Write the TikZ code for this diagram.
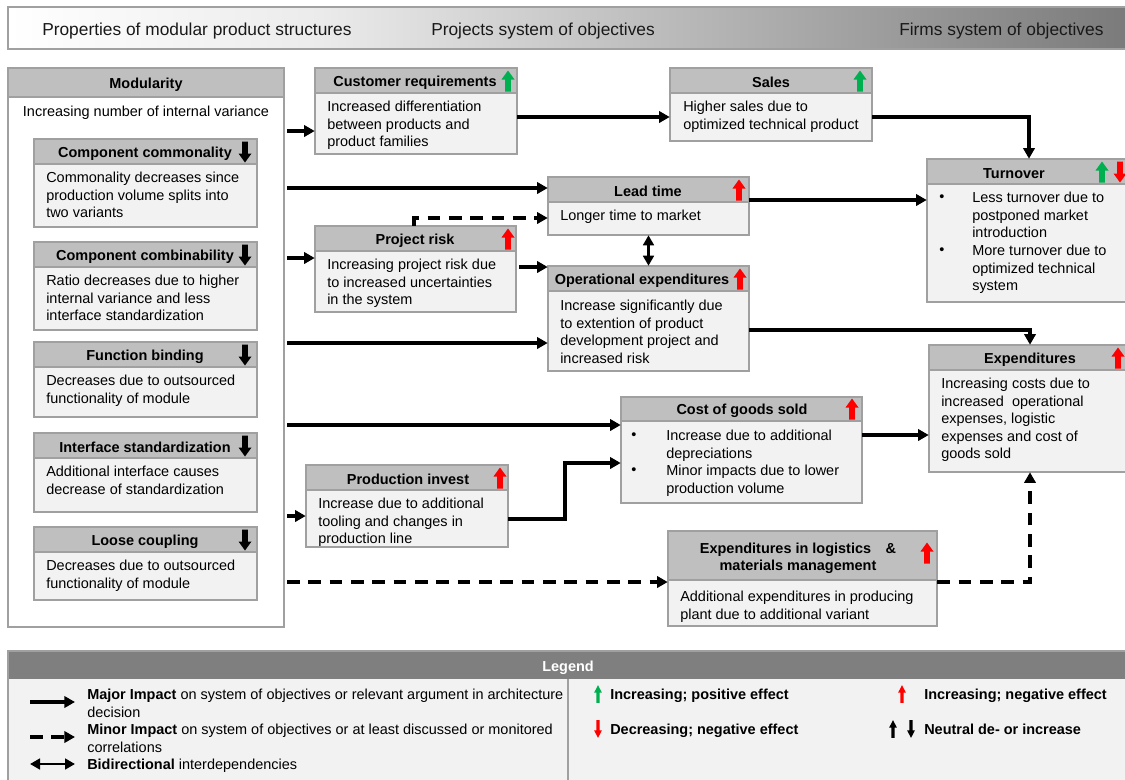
\documentclass[tikz,border=0pt]{standalone}
\usepackage{fontspec}
\setmainfont{Liberation Sans}
\usetikzlibrary{arrows.meta,fit}
\definecolor{titlefill}{HTML}{BFBFBF}
\definecolor{bodyfill}{HTML}{F2F2F2}
\definecolor{boxline}{HTML}{A0A0A0}
\definecolor{leghead}{HTML}{7F7F7F}
\definecolor{hdrmid}{HTML}{EBEBEB}
\definecolor{hdrend}{HTML}{7A7A7A}
\definecolor{posgreen}{HTML}{00B050}
\definecolor{negred}{HTML}{FF0000}
\newcommand\bodyfont{\fontsize{10.85pt}{13.1pt}\selectfont}
\newcommand\headfont{\fontsize{13pt}{15pt}\selectfont}
% name x1 y1 x2 y2 yband fill
\newcommand\objbox[7]{%
  \node[fit={(#2,#3) (#4,#5)}, inner sep=0pt, fill=#7] (#1) {};
  \fill[titlefill] (#2,#3) rectangle (#4,#6);
  \draw[boxline, line width=0.9pt] (#2,#6) -- (#4,#6);
  \draw[boxline, line width=1.1pt] (#2,#3) rectangle (#4,#5);
}
\newcommand\blkup[4][]{\begin{scope}[shift={(#2,#3)},#1]
  \fill[#4] (0,-10.5) -- (6.5,-1.5) -- (2.8,-1.5) -- (2.8,10.5) -- (-2.8,10.5) -- (-2.8,-1.5) -- (-6.5,-1.5) -- cycle;
\end{scope}}
\newcommand\blkdown[4][]{\blkup[yscale=-1,#1]{#2}{#3}{#4}}
\tikzset{
  major/.style={line width=2.6pt, -{Triangle[length=8pt,width=8.5pt]}},
  minor/.style={major, dash pattern=on 9.5pt off 6.5pt},
  bidir/.style={line width=2.1pt, {Triangle[length=7.5pt,width=8pt]}-{Triangle[length=7.5pt,width=8pt]}},
  ttl/.style={font=\bodyfont\bfseries, inner sep=0pt, align=center, yshift=-1.1pt},
  txt/.style={font=\bodyfont, anchor=north west, inner sep=0pt, align=left, yshift=-1.1pt},
  bul/.style={font=\bodyfont, inner sep=0pt, yshift=-1.1pt},
  hdr/.style={font=\headfont, anchor=west, inner sep=0pt, text=black!90, yshift=-1.5pt},
}
\begin{document}
\begin{tikzpicture}[x=0.75pt,y=-0.75pt]
\clip (0,0) rectangle (1125,779);
\fill[white] (0,0) rectangle (1125,779);

% header bar
\shade[left color=white, right color=hdrmid] (8,7) rectangle (321,49);
\shade[left color=hdrmid, right color=hdrend] (320,7) rectangle (1131,49);
\draw[boxline, line width=1.1pt] (8,7) rectangle (1131,49);
\node[hdr] (h1) at (42,29) {Properties of modular product structures};
\node[hdr] (h2) at (431,29) {Projects system of objectives};
\node[hdr] (h3) at (899,29) {Firms system of objectives};

% Modularity
\objbox{mod}{8}{68}{284}{627}{97}{white}
\node[ttl] (modt) at (146,83) {Modularity};
\node[bul] (modb) at (146,111) {Increasing number of internal variance};

\objbox{cc}{34}{139}{257}{227}{164}{bodyfill}
\node[ttl] (cct) at (145,152) {Component commonality};
\blkdown{245}{152}{black}
\node[txt] (ccb) at (46,169) {\strut Commonality decreases since\\production volume splits into\\two variants};

\objbox{cb}{34}{242}{257}{330}{267}{bodyfill}
\node[ttl] (cbt) at (145,255) {Component combinability};
\blkdown{245}{255}{black}
\node[txt] (cbb) at (46,272) {\strut Ratio decreases due to higher\\internal variance and less\\interface standardization};

\objbox{fb}{34}{342}{257}{417}{367}{bodyfill}
\node[ttl] (fbt) at (145,355) {Function binding};
\blkdown{245}{355}{black}
\node[txt] (fbb) at (46,372) {\strut Decreases due to outsourced\\functionality of module};

\objbox{is}{34}{433}{257}{512}{458}{bodyfill}
\node[ttl] (ist) at (145,446) {Interface standardization};
\blkdown{245}{446}{black}
\node[txt] (isb) at (46,463) {\strut Additional interface causes\\decrease of standardization};

\objbox{lc}{34}{527}{257}{600}{552}{bodyfill}
\node[ttl] (lct) at (145,540) {Loose coupling};
\blkdown{245}{540}{black}
\node[txt] (lcb) at (46,557) {\strut Decreases due to outsourced\\functionality of module};

% Customer requirements
\objbox{cr}{315}{68}{517}{154}{93}{bodyfill}
\node[ttl] (crt) at (415,81) {Customer requirements};
\blkup{508}{81}{posgreen}
\node[txt] (crb) at (327,98) {\strut Increased differentiation\\between products and\\product families};

% Sales
\objbox{sales}{670}{68}{872}{141}{93}{bodyfill}
\node[ttl] (salest) at (771,81) {Sales};
\blkup{860}{81}{posgreen}
\node[txt] (salesb) at (683,98) {\strut Higher sales due to\\optimized technical product};

% Lead time
\objbox{lead}{548}{177}{749}{235}{202}{bodyfill}
\node[ttl] (leadt) at (648,190) {Lead time};
\blkup{739}{190}{negred}
\node[txt] (leadb) at (560,207) {\strut Longer time to market};

% Project risk
\objbox{risk}{315}{226}{516}{312}{251}{bodyfill}
\node[ttl] (riskt) at (415,239) {Project risk};
\blkup{508}{239}{negred}
\node[txt] (riskb) at (327,256) {\strut Increasing project risk due\\to increased uncertainties\\in the system};

% Operational expenditures
\objbox{opex}{548}{266}{749}{371}{291}{bodyfill}
\node[ttl] (opext) at (642,279) {Operational expenditures};
\blkup{740}{279}{negred}
\node[txt] (opexb) at (560,297) {\strut Increase significantly due\\to extention of product\\development project and\\increased risk};

% Turnover
\objbox{turn}{927}{159}{1131}{302}{184}{bodyfill}
\node[ttl] (turnt) at (1014,172) {Turnover};
\blkup{1102}{172}{posgreen}
\blkdown{1120}{172}{negred}
\node[bul] (tb1) at (942,197) {\textbullet};
\node[txt] (tt1) at (972,189) {\strut Less turnover due to\\postponed market\\introduction};
\node[bul] (tb2) at (942,250) {\textbullet};
\node[txt] (tt2) at (972,242) {\strut More turnover due to\\optimized technical\\system};

% Expenditures
\objbox{exp}{929}{345}{1131}{472}{370}{bodyfill}
\node[ttl] (expt) at (1030,358) {Expenditures};
\blkup{1118}{358}{negred}
\node[txt] (expb) at (941,375) {\strut Increasing costs due to\\increased\ \ operational\\expenses, logistic\\expenses and cost of\\goods sold};

% Cost of goods sold
\objbox{cogs}{621}{397}{862}{503}{421}{bodyfill}
\node[ttl] (cogst) at (742,409) {Cost of goods sold};
\blkup{852}{409}{negred}
\node[bul] (cb1) at (634,435) {\textbullet};
\node[txt] (ct1) at (666,427) {\strut Increase due to additional\\depreciations};
\node[bul] (cb2) at (634,470) {\textbullet};
\node[txt] (ct2) at (666,462) {\strut Minor impacts due to lower\\production volume};

% Production invest
\objbox{prod}{306}{465}{508}{547}{490}{bodyfill}
\node[ttl] (prodt) at (408,478) {Production invest};
\blkup{500}{478}{negred}
\node[txt] (prodb) at (318,495) {\strut Increase due to additional\\tooling and changes in\\production line};

% Logistics
\objbox{log}{668}{531}{937}{626}{580}{bodyfill}
\node[ttl] (logt) at (798,557) {Expenditures in logistics\quad\&\\materials management};
\blkup{927}{553}{negred}
\node[txt] (logb) at (680,588) {\strut Additional expenditures in producing\\plant due to additional variant};

% coordinates
\coordinate (m1) at (287,131);
\coordinate (m2) at (287,188);
\coordinate (m3) at (287,258);
\coordinate (m4) at (287,343);
\coordinate (m5) at (287,425);
\coordinate (m6) at (287,516);
\coordinate (m7) at (287,582);
\coordinate (ya) at (0,117);
\coordinate (yb) at (0,200);
\coordinate (yc) at (0,267);
\coordinate (yd) at (0,330);
\coordinate (ye) at (0,435);
\coordinate (yf) at (0,519);
\coordinate (yg) at (0,463);
\coordinate (yh) at (0,218);
\coordinate (xp) at (565,0);
\coordinate (xr) at (414,0);

% connectors
\draw[major] (m1) -- (cr.west |- m1);
\draw[major] (cr.east |- ya) -- (sales.west |- ya);
\draw[major] (sales.east |- ya) -| (turn.north);
\draw[major] (m2) -- (lead.west |- m2);
\draw[major] (lead.east |- yb) -- (turn.west |- yb);
\draw[minor] (risk.north -| xr) |- (lead.west |- yh);
\draw[major] (m3) -- (risk.west |- m3);
\draw[major, shorten <=2pt] (risk.east |- yc) -- (opex.west |- yc);
\draw[bidir] (lead.south) -- (opex.north);
\draw[major] (m4) -- (opex.west |- m4);
\draw[major] (opex.east |- yd) -| (exp.north);
\draw[major] (m5) -- (cogs.west |- m5);
\draw[major] (m6) -- (prod.west |- m6);
\draw[major] (prod.east |- yf) -| (xp |- yg) -- (cogs.west |- yg);
\draw[major] (cogs.east |- ye) -- (exp.west |- ye);
\draw[minor] (m7) -- (log.west |- m7);
\draw[minor] (log.east |- m7) -| (exp.south);

% legend
\node[fit={(8,651) (1131,790)}, inner sep=0pt, fill=bodyfill] (legend) {};
\fill[leghead] (8,651) rectangle (1131,679);
\draw[boxline, line width=1.1pt] (568,679) -- (568,790);
\draw[boxline, line width=1.1pt] (8,651) rectangle (1131,790);
\node[ttl, text=white] (legt) at (568,666) {Legend};

\coordinate (l1a) at (30,702);
\coordinate (l1b) at (75,702);
\coordinate (l2a) at (30,737);
\coordinate (l2b) at (75,737);
\coordinate (l3a) at (30,764);
\coordinate (l3b) at (75,764);
\draw[major] (l1a) -- (l1b);
\draw[minor] (l2a) -- (l2b);
\draw[bidir] (l3a) -- (l3b);
\node[txt] (lt1) at (87,686) {\strut\textbf{Major Impact} on system of objectives or relevant argument in architecture\\decision};
\node[txt] (lt2) at (87,721) {\strut\textbf{Minor Impact} on system of objectives or at least discussed or monitored\\correlations};
\node[txt] (lt3) at (87,756) {\strut\textbf{Bidirectional} interdependencies};

\blkup[xscale=0.6,yscale=0.85]{598}{694}{posgreen}
\node[txt, font=\bodyfont\bfseries] (lr1) at (610,686) {\strut Increasing; positive effect};
\blkup[xscale=0.6,yscale=0.85]{902}{694}{negred}
\node[txt, font=\bodyfont\bfseries] (lr2) at (924,686) {\strut Increasing; negative effect};
\blkdown[xscale=0.6,yscale=0.85]{598}{729}{negred}
\node[txt, font=\bodyfont\bfseries] (lr3) at (610,721) {\strut Decreasing; negative effect};
\blkup[xscale=0.6,yscale=0.85]{893}{729}{black}
\blkdown[xscale=0.6,yscale=0.85]{911}{729}{black}
\node[txt, font=\bodyfont\bfseries] (lr4) at (924,721) {\strut Neutral de- or increase};
\end{tikzpicture}
\end{document}
